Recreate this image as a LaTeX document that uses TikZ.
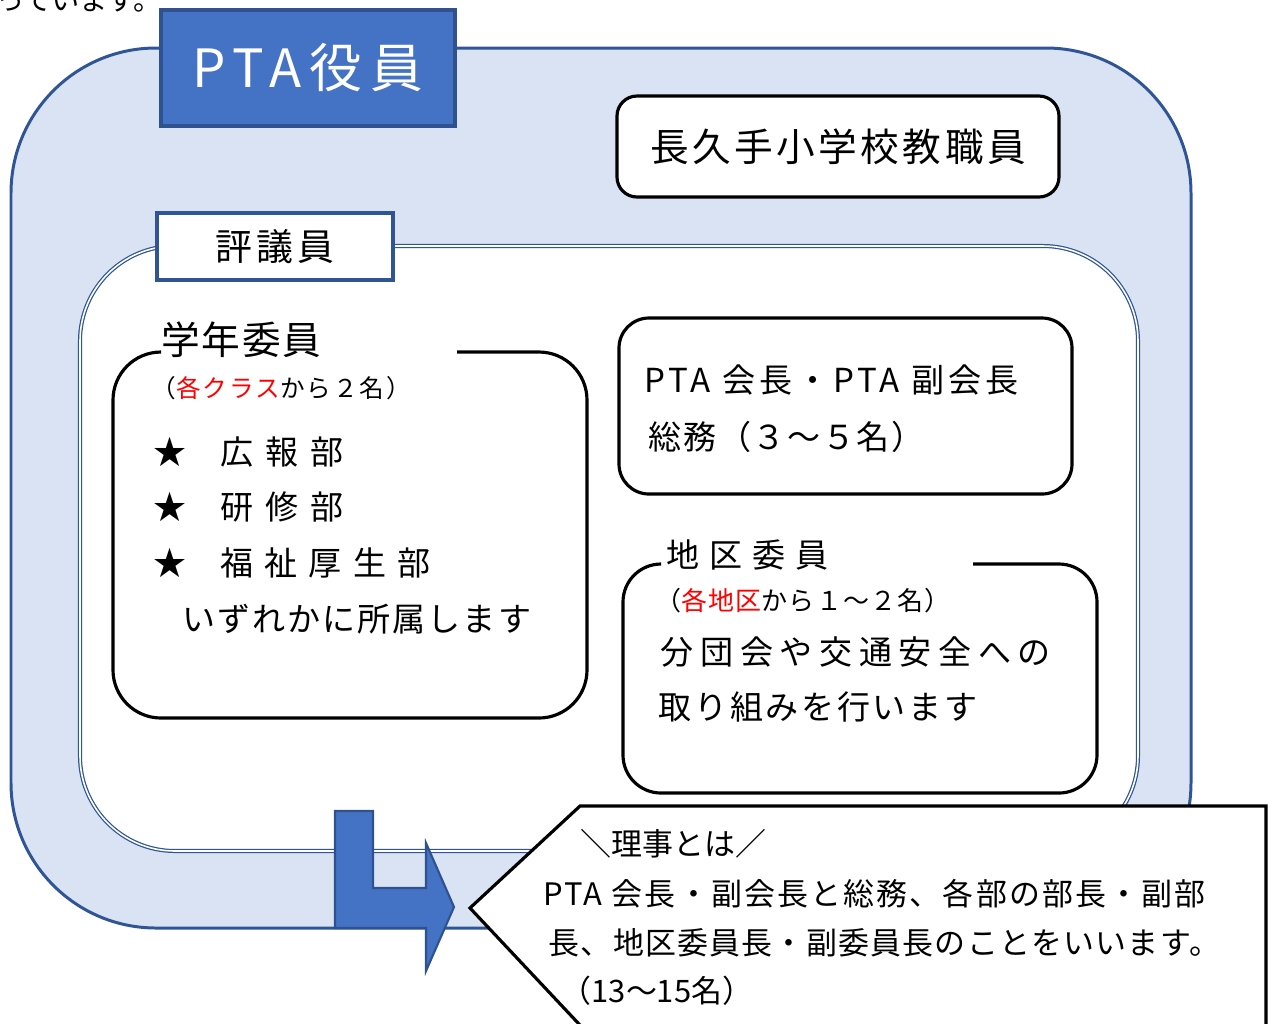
\documentclass[tikz,border=0pt]{standalone}
\usepackage{fontspec}
\setmainfont{Noto Sans CJK JP}
\usetikzlibrary{positioning}

\newlength{\upx}
\setlength{\upx}{0.01cm}
\newcommand{\jfont}[2]{\fontsize{#1}{#1}\selectfont\addfontfeature{LetterSpace=#2}}

\begin{document}
\begin{tikzpicture}[x=0.01cm, y=-0.01cm,
		txt/.style={inner sep=0pt, anchor=base west},
		roundbox/.style={draw=black, line width=0.9pt, fill=white},
		bluebox/.style={draw=frameline, line width=0.9pt, inner sep=0pt}]
	% Define colors
	\definecolor{framefill}{HTML}{DAE3F3}  % Light blue band
	\definecolor{frameline}{HTML}{2F5597}  % Dark blue outline
	\definecolor{titlefill}{HTML}{4472C4}  % Title blue
	\definecolor{titleline}{HTML}{2F528F}  % Title outline

	\useasboundingbox (0,0) rectangle (1269,1023);

	% Cut line from the page above
	\node[txt, font={\jfont{8pt}{0}}] (cutline) at (-4,10) {っています。};

	% Frames
	\filldraw[fill=framefill, draw=frameline, line width=0.85pt, rounded corners=1.45cm] (11,48) rectangle (1191,928);
	\filldraw[fill=white, draw=frameline, double=white, double distance=0.45pt, line width=0.35pt, rounded corners=0.95cm] (80,246) rectangle (1138,851);

	% Title boxes
	\node[bluebox, draw=titleline, fill=titlefill, minimum width=294\upx, minimum height=116\upx, text=white, font={\jfont{15pt}{15}}] (yakuin) at (308,68) {PTA役員};
	\node[bluebox, fill=white, minimum width=236\upx, minimum height=67\upx, font={\jfont{10.5pt}{11}}] (hyogiin) at (275,246.5) {評議員};
	\node[roundbox, rounded corners=0.2cm, minimum width=442\upx, minimum height=101\upx, font={\jfont{11pt}{9}}] (kyoshokuin) at (838,146.5) {長久手小学校教職員};

	% Boxes for committees
	\draw[line width=0.9pt, rounded corners=0.48cm] (457,352) -- (587,352) -- (587,718) -- (113,718) -- (113,352) -- (161,352);
	\draw[roundbox, rounded corners=0.3cm] (619,318) rectangle (1072,494);
	\draw[line width=0.9pt, rounded corners=0.38cm] (973,564) -- (1097,564) -- (1097,793) -- (623,793) -- (623,564) -- (661,564);

	% Grade committee
	\node[txt, font={\jfont{11pt}{4}}] (gakunen) at (161,354) {学年委員};
	\node[txt, font={\jfont{7pt}{8}}] (gakunensub) at (151,397) {（\textcolor{red}{各クラス}から２名）};
	\node[txt, font={\jfont{9.4pt}{36}}] (kohobu) at (153,464.5) {★\hspace{9.5pt}広報部};
	\node[txt, font={\jfont{9.4pt}{36}}] (kenshubu) at (153,519.5) {★\hspace{9.5pt}研修部};
	\node[txt, font={\jfont{9.4pt}{34}}] (fukushibu) at (153,575.5) {★\hspace{9.5pt}福祉厚生部};
	\node[txt, font={\jfont{9.4pt}{6}}] (shozoku) at (182,631.5) {いずれかに所属します};

	% Officers
	\node[txt, font={\jfont{9.4pt}{12}}] (kaicho) at (644,392.5) {PTA 会長・PTA 副会長};
	\node[txt, font={\jfont{9.4pt}{5}}] (somu) at (648,449.5) {総務（３～５名）};

	% District committee
	\node[txt, font={\jfont{9.4pt}{30}}] (chiku) at (666,567.5) {地区委員};
	\node[txt, font={\jfont{7.4pt}{4}}] (chikusub) at (655,610) {（\textcolor{red}{各地区}から１～２名）};
	\node[txt, font={\jfont{9.4pt}{20}}] (chikuline1) at (660,664.5) {分団会や交通安全への};
	\node[txt, font={\jfont{9.4pt}{8}}] (chikuline2) at (658,719.5) {取り組みを行います};

	% Callout
	\filldraw[fill=white, draw=black, line width=0.9pt] (470,908) -- (580,806) -- (1266,806) -- (1266,1040) -- (594,1040) -- cycle;
	\node[txt, font={\jfont{8.8pt}{0}}] (rijihead) at (580,855) {＼理事とは／};
	\node[txt, font={\jfont{8.8pt}{7}}] (riji1) at (543,905) {PTA 会長・副会長と総務、各部の部長・副部};
	\node[txt, font={\jfont{8.8pt}{4}}] (riji2) at (548,954) {長、地区委員長・副委員長のことをいいます。};
	\node[txt, font={\jfont{8.8pt}{0}}] (riji3) at (560,1002) {（13～15名）};

	% Bent arrow
	\filldraw[fill=titlefill, draw=titleline, line width=0.6pt] (335,811) -- (373,811) -- (373,888) -- (426,888) -- (426,843) -- (454,907) -- (426,971) -- (426,928) -- (335,928) -- cycle;
\end{tikzpicture}
\end{document}
